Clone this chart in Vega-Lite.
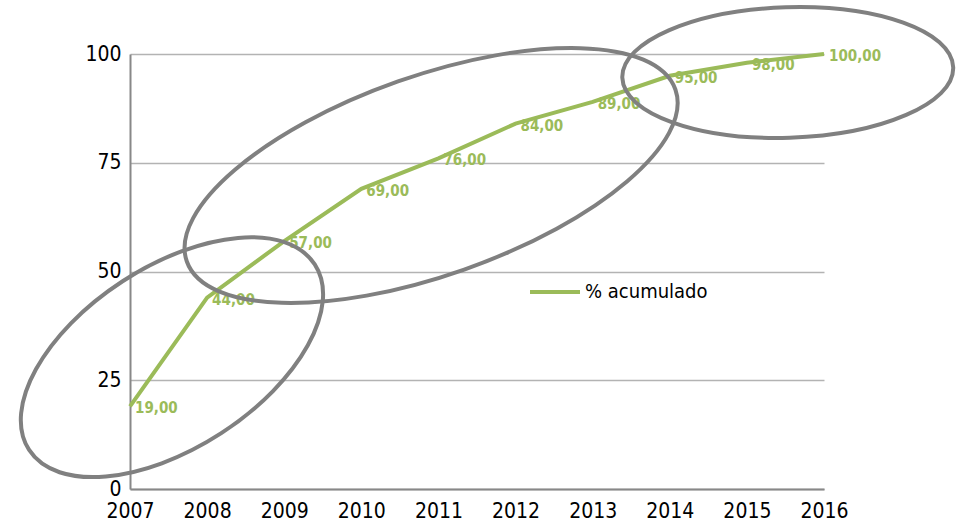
{
  "$schema": "https://vega.github.io/schema/vega-lite/v6.json",
  "width": 694,
  "height": 435,
  "autosize": {"type": "none"},
  "padding": {"left": 130, "top": 54, "right": 135, "bottom": 37},
  "background": "white",
  "config": {
    "view": {"stroke": null},
    "font": "Liberation Sans Narrow, DejaVu Sans Condensed, Liberation Sans, sans-serif",
    "locale": {"number": {"decimal": ",", "thousands": ".", "grouping": [3], "currency": ["", " €"]}}
  },
  "datasets": {
    "serie": [
      {"year": 2007, "pct": 19},
      {"year": 2008, "pct": 44},
      {"year": 2009, "pct": 57},
      {"year": 2010, "pct": 69},
      {"year": 2011, "pct": 76},
      {"year": 2012, "pct": 84},
      {"year": 2013, "pct": 89},
      {"year": 2014, "pct": 95},
      {"year": 2015, "pct": 98},
      {"year": 2016, "pct": 100}
    ],
    "e1": [{"year": 2007.544, "pct": 30.3}],
    "e2": [{"year": 2010.905, "pct": 72.07}],
    "e3": [{"year": 2015.53, "pct": 95.75}]
  },
  "encoding": {
    "x": {
      "field": "year", "type": "quantitative",
      "scale": {"domain": [2007, 2016], "nice": false, "zero": false},
      "axis": {
        "title": null, "values": [2007, 2008, 2009, 2010, 2011, 2012, 2013, 2014, 2015, 2016],
        "format": "d", "grid": false, "ticks": false,
        "domainColor": "#888888", "domainWidth": 2,
        "labelFont": "Liberation Sans Narrow, DejaVu Sans Condensed, Liberation Sans, sans-serif", "labelFontSize": 21, "labelColor": "#000000",
        "labelPadding": 11, "labelFlush": false
      }
    },
    "y": {
      "field": "pct", "type": "quantitative",
      "scale": {"domain": [0, 100], "nice": false},
      "axis": {
        "title": null, "values": [0, 25, 50, 75, 100],
        "grid": true, "gridColor": "#b3b3b3", "gridWidth": 1.5, "ticks": false,
        "domainColor": "#888888", "domainWidth": 2,
        "labelFont": "Liberation Sans Narrow, DejaVu Sans Condensed, Liberation Sans, sans-serif", "labelFontSize": 21, "labelColor": "#000000",
        "labelPadding": 9
      }
    }
  },
  "layer": [
    {
      "data": {"name": "serie"},
      "mark": {"type": "line", "strokeWidth": 4, "strokeCap": "butt"},
      "encoding": {
        "color": {
          "datum": "% acumulado",
          "type": "nominal",
          "scale": {"range": ["#9bbb59"]},
          "legend": {
            "title": null, "orient": "none", "legendX": 398, "legendY": 211,
            "symbolType": "stroke", "symbolSize": 2500, "symbolStrokeWidth": 4,
            "labelFont": "Liberation Sans Narrow, DejaVu Sans Condensed, Liberation Sans, sans-serif", "labelFontSize": 20, "labelColor": "#000000",
            "labelOffset": 3, "padding": 0
          }
        }
      }
    },
    {
      "data": {"name": "serie"},
      "mark": {"type": "text", "align": "left", "baseline": "middle", "dx": 5, "dy": 2,
               "font": "Liberation Sans Narrow, DejaVu Sans Condensed, Liberation Sans, sans-serif", "fontSize": 15, "fontWeight": "bold", "color": "#9bbb59"},
      "encoding": {"text": {"field": "pct", "type": "quantitative", "format": ".2f"}}
    },
    {
      "data": {"name": "e1"},
      "mark": {"type": "point", "filled": false, "stroke": "#808080", "strokeWidth": 4, "opacity": 1,
               "shape": "M -1 0 A 1 0.532 0 1 0 1 0 A 1 0.532 0 1 0 -1 0 Z", "size": 116000, "angle": -33},
      "encoding": {}
    },
    {
      "data": {"name": "e2"},
      "mark": {"type": "point", "filled": false, "stroke": "#808080", "strokeWidth": 4, "opacity": 1,
               "shape": "M -1 0 A 1 0.385 0 1 0 1 0 A 1 0.385 0 1 0 -1 0 Z", "size": 268300, "angle": -19.4},
      "encoding": {}
    },
    {
      "data": {"name": "e3"},
      "mark": {"type": "point", "filled": false, "stroke": "#808080", "strokeWidth": 4, "opacity": 1,
               "shape": "M -1 0 A 1 0.394 0 1 0 1 0 A 1 0.394 0 1 0 -1 0 Z", "size": 109600, "angle": -1.8},
      "encoding": {}
    }
  ]
}
